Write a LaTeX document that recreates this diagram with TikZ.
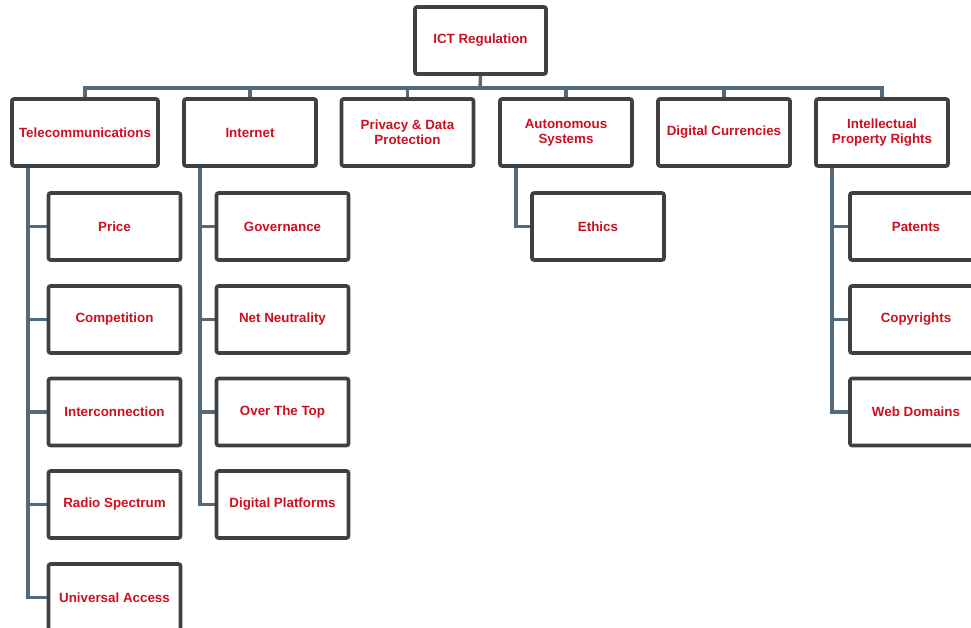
\documentclass[tikz,border=0pt]{standalone}
\usepackage{fontspec}
\setmainfont{Liberation Sans}
\usepackage{tikz}
\usetikzlibrary{backgrounds}

\definecolor{boxred}{RGB}{204,16,32}
\definecolor{boxgray}{RGB}{64,64,64}
\definecolor{linkblue}{RGB}{84,106,123}

\tikzset{
  topic/.style={draw=boxgray, line width=2.6pt, fill=white, rounded corners=1.5pt,
    minimum width=132*0.025cm, minimum height=67*0.025cm, align=center,
    text=boxred, font=\fontsize{9.5}{10.5}\selectfont\bfseries, inner sep=1pt},
  link/.style={draw=linkblue, line width=2.4pt}
}

\begin{document}
\begin{tikzpicture}[x=0.025cm, y=-0.025cm]

% Page frame
\useasboundingbox (0,0) rectangle (971,628);
\clip (0,0) rectangle (971,628);

% Spine coordinates
\coordinate (bus) at (480,88);
\coordinate (telspine) at (28,166);
\coordinate (intspine) at (200,166);
\coordinate (autspine) at (516,166);
\coordinate (iprspine) at (832,166);

% Root
\node[topic, minimum width=131*0.025cm] (root) at (480.5,40.5) {ICT Regulation};

% Level 1
\node[topic, minimum width=146*0.025cm] (tel) at (85,132.5) {Telecommunications};
\node[topic] (int) at (250,132.5) {Internet};
\node[topic] (pri) at (407.5,132.5) {Privacy \& Data\\Protection};
\node[topic] (aut) at (566,132.5) {Autonomous\\Systems};
\node[topic] (cur) at (724,132.5) {Digital Currencies};
\node[topic] (ipr) at (882,132.5) {Intellectual\\Property Rights};

% Telecommunications
\node[topic] (price) at (114.5,226.5) {Price};
\node[topic] (comp) at (114.5,319.5) {Competition};
\node[topic] (inter) at (114.5,412) {Interconnection};
\node[topic] (radio) at (114.5,504.5) {Radio Spectrum};
\node[topic] (univ) at (114.5,597.5) {Universal Access};

% Internet
\node[topic] (gov) at (282.5,226.5) {Governance};
\node[topic] (net) at (282.5,319.5) {Net Neutrality};
\node[topic] (ott) at (282.5,412) {Over The Top};
\node[topic] (plat) at (282.5,504.5) {Digital Platforms};

% Autonomous Systems
\node[topic] (eth) at (598,226.5) {Ethics};

% Intellectual Property Rights
\node[topic] (pat) at (916,226.5) {Patents};
\node[topic] (copy) at (916,319.5) {Copyrights};
\node[topic] (web) at (916,412) {Web Domains};

% Links behind the boxes
\begin{scope}[on background layer]
\draw[link] (root.south) -- (bus);
\foreach \n in {tel,int,pri,aut,cur,ipr}
  \draw[link] (bus) -| (\n.north);
\foreach \n in {price,comp,inter,radio,univ}
  \draw[link] (telspine) |- (\n.west);
\foreach \n in {gov,net,ott,plat}
  \draw[link] (intspine) |- (\n.west);
\draw[link] (autspine) |- (eth.west);
\foreach \n in {pat,copy,web}
  \draw[link] (iprspine) |- (\n.west);
\end{scope}

\end{tikzpicture}
\end{document}
